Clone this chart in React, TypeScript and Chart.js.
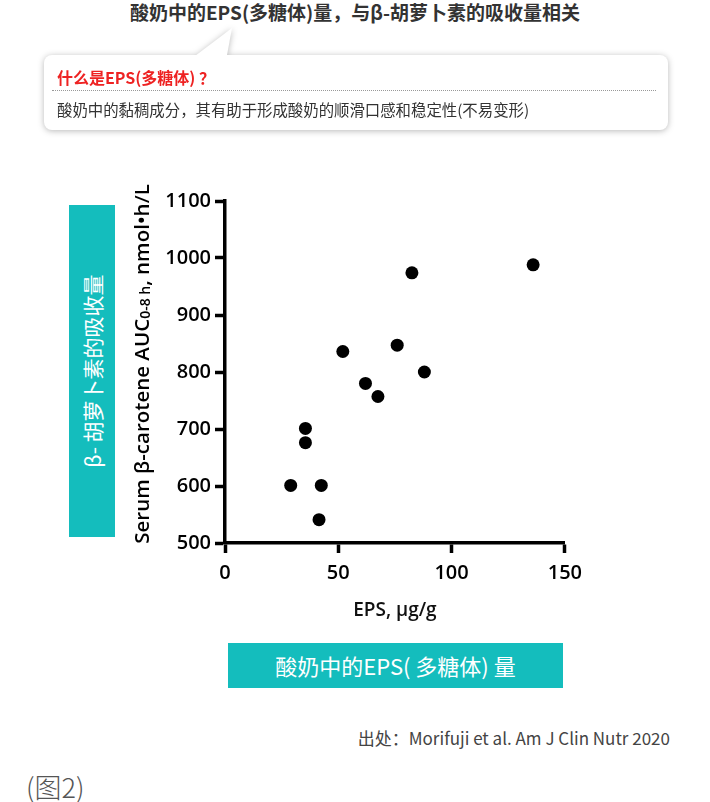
import { useEffect, useRef } from "react";
import { Chart, registerables } from "chart.js";

Chart.register(...registerables);

// EPS (µg/g) vs serum β-carotene AUC0-8h (nmol·h/L)
const epsValues = [29, 35.5, 35.5, 41.5, 42.5, 52, 62, 67.5, 76, 82.5, 88, 136];
const aucValues = [601, 701, 676, 541, 601, 836, 780, 757, 847, 974, 800, 988];
const xTicks = [0, 50, 100, 150];
const yTicks = [500, 600, 700, 800, 900, 1000, 1100];

const TEAL = "#14bdbd";
const TICK_FONT = { family: "'Open Sans', 'DejaVu Sans', sans-serif", size: 20, weight: 600 };
const CJK = "'Noto Sans CJK SC', 'Noto Sans', sans-serif";

if (typeof document !== "undefined") document.body.style.margin = "0";

// y axis title with a subscript, drawn rotated on the left of the plot
const yTitlePlugin = {
  id: "yTitle",
  afterDraw(chart: Chart) {
    const { ctx, chartArea } = chart;
    const parts = [
      { text: "Serum β-carotene AUC", size: 20.5, dy: 0 },
      { text: "0-8 h", size: 14, dy: 3 },
      { text: ", nmol•h/L", size: 20.5, dy: 0 },
    ];
    ctx.save();
    let total = 0;
    for (const p of parts) {
      ctx.font = `600 ${p.size}px 'Open Sans', sans-serif`;
      total += ctx.measureText(p.text).width;
    }
    const cy = (chartArea.top + chartArea.bottom) / 2 - 8;
    ctx.translate(23, cy);
    ctx.rotate(-Math.PI / 2);
    ctx.fillStyle = "#000";
    ctx.textBaseline = "middle";
    let x = -total / 2;
    for (const p of parts) {
      ctx.font = `600 ${p.size}px 'Open Sans', sans-serif`;
      ctx.fillText(p.text, x, p.dy);
      x += ctx.measureText(p.text).width;
    }
    ctx.restore();
  },
};

function ScatterChart() {
  const canvasRef = useRef<HTMLCanvasElement>(null);

  useEffect(() => {
    const canvas = canvasRef.current;
    if (!canvas) return;
    const chart = new Chart(canvas, {
      type: "scatter",
      data: {
        datasets: [
          {
            data: epsValues.map((x, i) => ({ x, y: aucValues[i] })),
            backgroundColor: "#000",
            borderWidth: 0,
            pointRadius: 6.5,
          },
        ],
      },
      options: {
        animation: false,
        responsive: true,
        maintainAspectRatio: false,
        layout: { padding: { top: 21, right: 21, left: 0, bottom: 0 } },
        plugins: { legend: { display: false }, tooltip: { enabled: false } },
        scales: {
          x: {
            type: "linear",
            min: 0,
            max: 150,
            afterBuildTicks: (s: any) => {
              s.ticks = xTicks.map((v) => ({ value: v }));
            },
            afterFit: (s: any) => {
              s.height = 87;
            },
            ticks: { font: TICK_FONT, color: "#000", padding: 8, callback: (v: any) => String(v) },
            grid: { drawOnChartArea: false, tickLength: 10, tickWidth: 3.5, tickColor: "#000" },
            border: { color: "#000", width: 3.5 },
            title: {
              display: true,
              text: "EPS, μg/g",
              color: "#111",
              font: { family: "'Open Sans', sans-serif", size: 19, weight: 600 },
              padding: { top: 4, bottom: 8 },
            },
          },
          y: {
            min: 500,
            max: 1100,
            afterBuildTicks: (s: any) => {
              s.ticks = yTicks.map((v) => ({ value: v }));
            },
            afterFit: (s: any) => {
              s.width = 105;
            },
            ticks: { font: TICK_FONT, color: "#000", padding: 4, callback: (v: any) => String(v) },
            grid: { drawOnChartArea: false, tickLength: 10, tickWidth: 3.5, tickColor: "#000" },
            border: { color: "#000", width: 3.5 },
          },
        },
      },
      plugins: [yTitlePlugin],
    });
    return () => chart.destroy();
  }, []);

  return (
    <div style={{ position: "absolute", left: 120, top: 180, width: 470, height: 450 }}>
      <canvas ref={canvasRef} />
    </div>
  );
}

export default function App() {
  return (
    <div style={{ position: "relative", width: 710, height: 802, background: "#fff", fontFamily: CJK, overflow: "hidden" }}>
      <div
        style={{
          position: "absolute", left: 0, top: 0, width: 710, textAlign: "center",
          fontSize: 19, fontWeight: 700, color: "#333", lineHeight: "24px",
        }}
      >
        酸奶中的EPS(多糖体)量，与β-胡萝卜素的吸收量相关
      </div>

      {/* callout */}
      <div style={{ position: "absolute", left: 0, top: 0, width: 710, height: 150, filter: "drop-shadow(0 1px 3px rgba(0,0,0,0.28))" }}>
        <div
          style={{
            position: "absolute", left: 195, top: 28, width: 37, height: 28, background: "#fff",
            clipPath: "polygon(0 100%, 100% 0, 86% 100%)",
          }}
        />
        <div
          style={{
            position: "absolute", left: 44, top: 55, width: 624, height: 75, background: "#fff", borderRadius: 8,
          }}
        >
          <div style={{ position: "absolute", left: 13, top: 11, fontSize: 16, fontWeight: 700, color: "#ee2222", lineHeight: "22px", whiteSpace: "nowrap" }}>
            什么是EPS(多糖体) ？
          </div>
          <div style={{ position: "absolute", left: 8, right: 12, top: 35, borderTop: "1px dotted #999" }} />
          <div style={{ position: "absolute", left: 13, top: 43, fontSize: 15.4, color: "#333", lineHeight: "22px", whiteSpace: "nowrap" }}>
            酸奶中的黏稠成分，其有助于形成酸奶的顺滑口感和稳定性(不易变形)
          </div>
        </div>
      </div>

      {/* side label */}
      <div
        style={{
          position: "absolute", left: 69, top: 205, width: 46, height: 332, background: TEAL,
          display: "flex", alignItems: "center", justifyContent: "center",
        }}
      >
        <span style={{ transform: "rotate(-90deg)", whiteSpace: "nowrap", color: "#fff", fontSize: 21, lineHeight: "24px" }}>
          β- 胡萝卜素的吸收量
        </span>
      </div>

      <ScatterChart />

      {/* bottom label */}
      <div
        style={{
          position: "absolute", left: 228, top: 643, width: 335, height: 45, background: TEAL,
          color: "#fff", fontSize: 22, lineHeight: "45px", textAlign: "center", whiteSpace: "nowrap",
        }}
      >
        酸奶中的EPS( 多糖体) 量
      </div>

      <div
        style={{
          position: "absolute", right: 40, top: 726, fontSize: 17, color: "#444", lineHeight: "24px",
          whiteSpace: "nowrap",
        }}
      >
        出处：Morifuji et al. Am J Clin Nutr 2020
      </div>

      <div style={{ position: "absolute", left: 26, top: 770, fontSize: 27, fontWeight: 300, color: "#555", lineHeight: "34px" }}>
        (图2)
      </div>
    </div>
  );
}
